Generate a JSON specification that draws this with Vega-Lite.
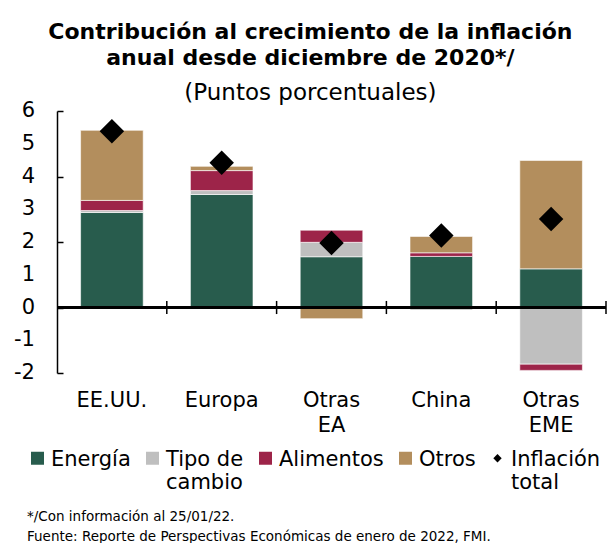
{
  "$schema": "https://vega.github.io/schema/vega-lite/v6.json",
  "width": 549,
  "height": 262,
  "autosize": {"type": "none"},
  "padding": {"left": 57, "right": 2, "top": 111, "bottom": 170},
  "background": "white",
  "config": {
    "font": "DejaVu Sans",
    "view": {"stroke": null},
    "axisY": {
      "tickCount": 8,
      "labelOverlap": false,
      "labels": false,
      "grid": false,
      "domainColor": "black",
      "domainWidth": 1.5,
      "ticks": true,
      "tickColor": "black",
      "tickWidth": 1.5,
      "tickSize": -6
    }
  },
  "title": {
    "text": ["Contribución al crecimiento de  la inflación", "anual desde diciembre de 2020*/"],
    "subtitle": "(Puntos porcentuales)",
    "fontSize": 22,
    "fontWeight": "bold",
    "lineHeight": 26,
    "color": "black",
    "subtitleFontSize": 23,
    "subtitleColor": "black",
    "subtitlePadding": 12,
    "anchor": "middle",
    "frame": "bounds",
    "offset": -6
  },
  "data": {
    "values": [
      {"pais": "EE.UU.", "componente": "Energía", "orden": 1, "valor": 2.90},
      {"pais": "EE.UU.", "componente": "Tipo de cambio", "orden": 2, "valor": 0.06},
      {"pais": "EE.UU.", "componente": "Alimentos", "orden": 3, "valor": 0.31},
      {"pais": "EE.UU.", "componente": "Otros", "orden": 4, "valor": 2.14},
      {"pais": "EE.UU.", "componente": "Inflación total", "orden": 5, "valor": 5.38},
      {"pais": "Europa", "componente": "Energía", "orden": 1, "valor": 3.45},
      {"pais": "Europa", "componente": "Tipo de cambio", "orden": 2, "valor": 0.12},
      {"pais": "Europa", "componente": "Alimentos", "orden": 3, "valor": 0.61},
      {"pais": "Europa", "componente": "Otros", "orden": 4, "valor": 0.13},
      {"pais": "Europa", "componente": "Inflación total", "orden": 5, "valor": 4.42},
      {"pais": "Otras EA", "componente": "Energía", "orden": 1, "valor": 1.55},
      {"pais": "Otras EA", "componente": "Tipo de cambio", "orden": 2, "valor": 0.44},
      {"pais": "Otras EA", "componente": "Alimentos", "orden": 3, "valor": 0.37},
      {"pais": "Otras EA", "componente": "Otros", "orden": 4, "valor": -0.34},
      {"pais": "Otras EA", "componente": "Inflación total", "orden": 5, "valor": 1.97},
      {"pais": "China", "componente": "Energía", "orden": 1, "valor": 1.56},
      {"pais": "China", "componente": "Tipo de cambio", "orden": 2, "valor": -0.08},
      {"pais": "China", "componente": "Alimentos", "orden": 3, "valor": 0.11},
      {"pais": "China", "componente": "Otros", "orden": 4, "valor": 0.50},
      {"pais": "China", "componente": "Inflación total", "orden": 5, "valor": 2.20},
      {"pais": "Otras EME", "componente": "Energía", "orden": 1, "valor": 1.18},
      {"pais": "Otras EME", "componente": "Tipo de cambio", "orden": 2, "valor": -1.73},
      {"pais": "Otras EME", "componente": "Alimentos", "orden": 3, "valor": -0.19},
      {"pais": "Otras EME", "componente": "Otros", "orden": 4, "valor": 3.31},
      {"pais": "Otras EME", "componente": "Inflación total", "orden": 5, "valor": 2.70}
    ]
  },
  "layer": [
    {
      "encoding": {
        "x": {
          "field": "pais",
          "type": "nominal",
          "sort": ["EE.UU.", "Europa", "Otras EA", "China", "Otras EME"],
          "scale": {"paddingInner": 0, "paddingOuter": 0},
          "axis": {
            "title": null,
            "domain": false,
            "ticks": false,
            "labelAngle": 0,
            "labelFontSize": 21,
            "labelColor": "black",
            "labelPadding": 16,
            "labelLineHeight": 25,
            "labelExpr": "split(datum.value, ' ')"
          }
        },
        "y": {
          "field": "valor",
          "type": "quantitative",
          "stack": "zero",
          "scale": {"domain": [-2, 6], "nice": false},
          "axis": {"title": null, "values": [-2, -1, 0, 1, 2, 3, 4, 5, 6], "tickCount": 8}
        },
        "color": {
          "field": "componente",
          "type": "nominal",
          "scale": {
            "domain": ["Energía", "Tipo de cambio", "Alimentos", "Otros", "Inflación total"],
            "range": ["#285C4D", "#BFBFBF", "#9D2449", "#B38E5D", "#000000"]
          },
          "legend": {
            "title": ["*/Con información al 25/01/22.", "Fuente: Reporte de Perspectivas Económicas de enero de 2022, FMI."],
            "titleOrient": "bottom",
            "titleAnchor": "start",
            "titleAlign": "left",
            "titleFontSize": 13.5,
            "titleFontWeight": "normal",
            "titleColor": "black",
            "titleLineHeight": 20,
            "titlePadding": 17,
            "titleLimit": 700,
            "orient": "none",
            "legendX": -30,
            "legendY": 327,
            "direction": "horizontal",
            "columns": 5,
            "columnPadding": 11,
            "labelFontSize": 21,
            "labelColor": "black",
            "labelLineHeight": 25,
            "labelBaseline": "top",
            "labelOffset": 3,
            "labelLimit": 200,
            "symbolSize": 169,
            "symbolStrokeWidth": 0,
            "symbolOpacity": 1,
            "labelExpr": "datum.value === 'Tipo de cambio' ? ['Tipo de', 'cambio'] : datum.value === 'Inflación total' ? ['Inflación', 'total'] : [datum.value, '']",
            "encode": {
              "symbols": {
                "update": {
                  "shape": {"signal": "datum.value === 'Inflación total' ? 'diamond' : 'square'"},
                  "size": {"signal": "datum.value === 'Inflación total' ? 70 : 169"},
                  "y": {"value": 20}
                }
              }
            }
          }
        }
      },
      "layer": [
        {
          "transform": [{"filter": "datum.componente !== 'Inflación total'"}],
          "mark": {"type": "bar", "width": {"band": 0.57}, "stroke": "white", "strokeWidth": 0.6},
          "encoding": {
            "order": {"field": "orden", "type": "quantitative"}
          }
        },
        {
          "transform": [{"filter": "datum.componente === 'Inflación total'"}],
          "mark": {"type": "point", "shape": "diamond", "filled": true, "size": 600, "opacity": 1, "strokeWidth": 0}
        }
      ]
    },
    {
      "data": {
        "values": [
          {"v": -2, "t": "-2"}, {"v": -1, "t": "-1"}, {"v": 0, "t": "0"},
          {"v": 1, "t": "1"}, {"v": 2, "t": "2"}, {"v": 3, "t": "3"},
          {"v": 4, "t": "4"}, {"v": 5, "t": "5"}, {"v": 6, "t": "6"}
        ]
      },
      "mark": {"type": "text", "align": "right", "baseline": "middle", "dx": -22, "fontSize": 21, "color": "black"},
      "encoding": {
        "x": {"datum": "EE.UU.", "type": "nominal", "bandPosition": 0},
        "y": {"field": "v", "type": "quantitative", "axis": {"title": null, "values": [-2, -1, 0, 1, 2, 3, 4, 5, 6], "tickCount": 8}},
        "text": {"field": "t"}
      }
    },
    {
      "mark": {"type": "rule", "color": "black", "strokeWidth": 1.5},
      "encoding": {"y": {"datum": 0, "axis": {"title": null, "values": [-2, -1, 0, 1, 2, 3, 4, 5, 6], "tickCount": 8}}}
    },
    {
      "data": {"values": [{"pais": "Europa"}, {"pais": "Otras EA"}, {"pais": "China"}, {"pais": "Otras EME"}]},
      "mark": {"type": "rule", "color": "black", "strokeWidth": 1.5},
      "encoding": {
        "x": {"field": "pais", "type": "nominal", "bandPosition": 0, "sort": ["EE.UU.", "Europa", "Otras EA", "China", "Otras EME"]},
        "y": {"datum": -0.2, "axis": {"title": null, "values": [-2, -1, 0, 1, 2, 3, 4, 5, 6], "tickCount": 8}},
        "y2": {"datum": 0.2}
      }
    },
    {
      "data": {"values": [{"pais": "Otras EME"}]},
      "mark": {"type": "rule", "color": "black", "strokeWidth": 1.5},
      "encoding": {
        "x": {"field": "pais", "type": "nominal", "bandPosition": 1, "sort": ["EE.UU.", "Europa", "Otras EA", "China", "Otras EME"]},
        "y": {"datum": -0.2, "axis": {"title": null, "values": [-2, -1, 0, 1, 2, 3, 4, 5, 6], "tickCount": 8}},
        "y2": {"datum": 0.2}
      }
    }
  ]
}
